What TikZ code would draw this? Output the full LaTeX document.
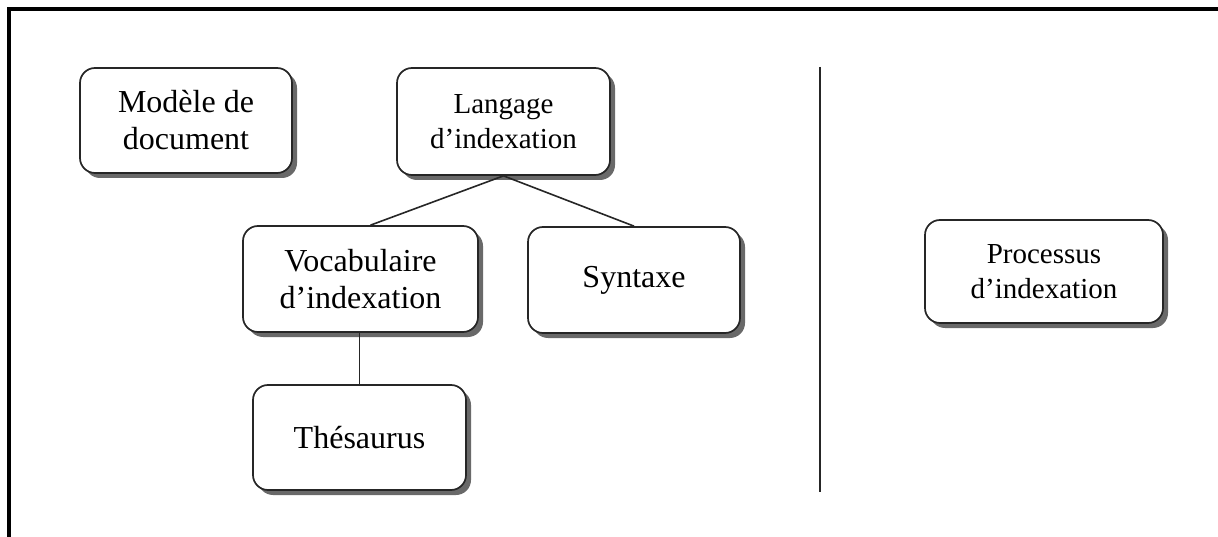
\documentclass[tikz,border=0pt]{standalone}
\usepackage{fontspec}
\setmainfont{Liberation Serif}
\usetikzlibrary{shadows,calc}
\tikzset{
  boxnode/.style={draw=black!85, line width=1.7pt, rounded corners=15pt, fill=white,
    align=center, inner sep=0pt,
    drop shadow={shadow xshift=5pt, shadow yshift=-5pt, fill=black!65, opacity=0.9},
    font=\fontsize{32}{37}\selectfont},
  smallbox/.style={boxnode, font=\fontsize{29}{35}\selectfont},
  link/.style={draw=black!85, line width=1.6pt},
}
\begin{document}
\begin{tikzpicture}[x=1pt,y=-1pt]
\useasboundingbox (0,0) rectangle (1218,537);
\fill[white] (0,0) rectangle (1218,537);
% frame (open at right and bottom)
\coordinate (frTL) at (9,9);
\coordinate (frTR) at (1218,9);
\coordinate (frBL) at (9,537);
\draw[line width=3.2pt] (frTR) -- (frTL) -- (frBL);
% separator
\coordinate (sepT) at (820,67);
\coordinate (sepB) at (820,492);
\draw[line width=2.6pt, black!85] (sepT) -- (sepB);
% boxes
\node[boxnode, minimum width=212pt, minimum height=105pt] (modele) at (186,120.5) {Modèle de\\document};
\node[smallbox, minimum width=213pt, minimum height=107pt] (langage) at (503.5,121.5) {Langage\\d’indexation};
\node[boxnode, minimum width=235pt, minimum height=106pt] (vocab) at (360.5,279) {Vocabulaire\\d’indexation};
\node[boxnode, minimum width=212pt, minimum height=106pt] (syntaxe) at (634,280) {Syntaxe};
\node[boxnode, minimum width=213pt, minimum height=105pt] (thes) at (359.5,437.5) {Thésaurus};
\node[smallbox, minimum width=238pt, minimum height=103pt] (proc) at (1044,271.5) {Processus\\d’indexation};
% connectors
\draw[link] (langage.south) -- ([xshift=10pt]vocab.north);
\draw[link] (langage.south) -- (syntaxe.north);
\draw[link] (thes.north |- vocab.south) -- (thes.north);
\end{tikzpicture}
\end{document}
